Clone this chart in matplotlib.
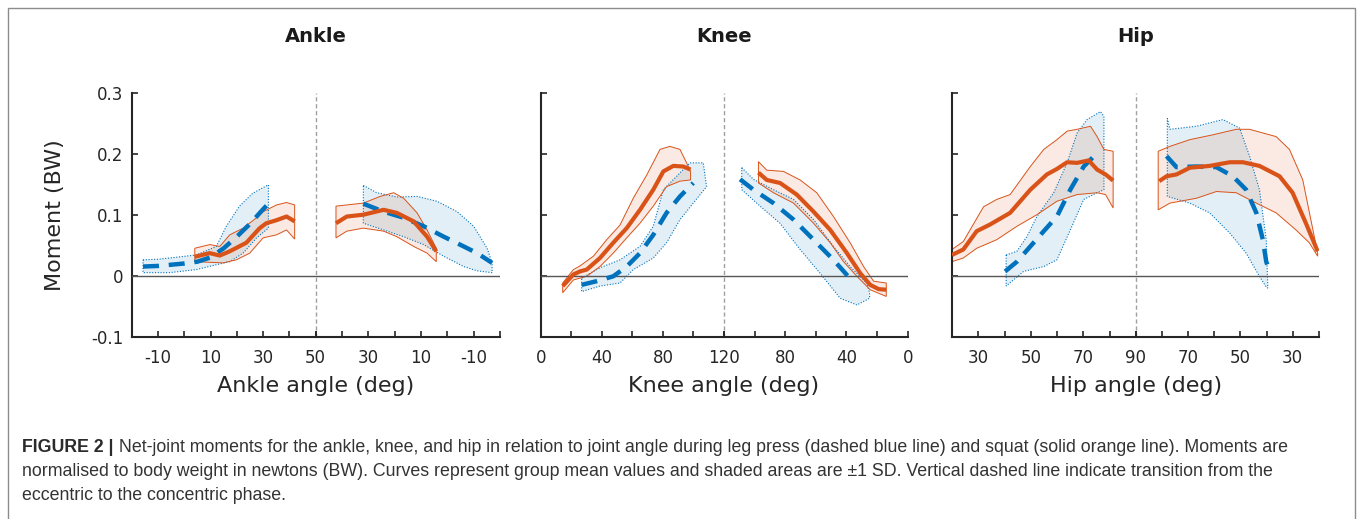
import matplotlib
matplotlib.use("Agg")
import matplotlib.pyplot as plt
from matplotlib.patches import Rectangle

plt.rcParams['font.family'] = ['DejaVu Sans']
plt.rcParams['axes.unicode_minus'] = False

# ---------------- data (angle in deg, moment in BW) ----------------
# Ankle, eccentric phase
ank_ecc_lp_x = [-15.7, -10, -5, 0, 5, 10, 15, 20, 25, 30, 32]
ank_ecc_lp_y = [0.015, 0.016, 0.018, 0.020, 0.023, 0.030, 0.045, 0.064, 0.085, 0.109, 0.118]
ank_ecc_lp_up_x = [-15.7, -10, -5.6, 4.6, 12.2, 16, 21, 26, 32]
ank_ecc_lp_up_y = [0.026, 0.027, 0.029, 0.034, 0.048, 0.081, 0.114, 0.135, 0.149]
ank_ecc_lp_lo_x = [-15.7, -5.6, 4.6, 12.2, 17.3, 22.4, 27.5, 32]
ank_ecc_lp_lo_y = [0.005, 0.005, 0.010, 0.018, 0.023, 0.037, 0.062, 0.078]
ank_ecc_sq_x = [4, 9.7, 13.5, 17.3, 23.6, 28.7, 31.2, 35.1, 38.9, 42]
ank_ecc_sq_y = [0.031, 0.037, 0.033, 0.040, 0.054, 0.078, 0.086, 0.091, 0.097, 0.089]
ank_ecc_sq_up_x = [4, 9.7, 13.5, 17.3, 22.4, 27.5, 30, 35.1, 38.9, 42]
ank_ecc_sq_up_y = [0.045, 0.051, 0.048, 0.067, 0.078, 0.095, 0.105, 0.116, 0.120, 0.116]
ank_ecc_sq_lo_x = [4, 9.7, 14.8, 19.8, 24.9, 30, 35.1, 38.9, 42]
ank_ecc_sq_lo_y = [0.023, 0.022, 0.021, 0.026, 0.037, 0.062, 0.067, 0.075, 0.060]
# Ankle, concentric phase
ank_con_sq_x = [42.3, 38.2, 31.9, 24.2, 19.2, 12.8, 7.7, 4.2]
ank_con_sq_y = [0.086, 0.097, 0.100, 0.108, 0.103, 0.089, 0.064, 0.040]
ank_con_sq_up_x = [42.3, 38.2, 31.9, 25.5, 20.4, 16.6, 11.5, 7.7, 4.2]
ank_con_sq_up_y = [0.114, 0.116, 0.119, 0.130, 0.136, 0.127, 0.103, 0.075, 0.045]
ank_con_sq_lo_x = [42.3, 38.2, 31.9, 24.2, 19.2, 12.8, 7.7, 4.2]
ank_con_sq_lo_y = [0.062, 0.073, 0.078, 0.073, 0.064, 0.048, 0.037, 0.023]
ank_con_lp_x = [31.9, 24.2, 16.6, 9.0, 1.4, -6.2, -11.3, -17.0]
ank_con_lp_y = [0.118, 0.105, 0.095, 0.081, 0.064, 0.048, 0.037, 0.021]
ank_con_lp_up_x = [31.9, 26.8, 19.2, 11.5, 3.9, -3.7, -10, -15.1, -17]
ank_con_lp_up_y = [0.148, 0.136, 0.129, 0.130, 0.122, 0.105, 0.081, 0.045, 0.021]
ank_con_lp_lo_x = [31.9, 24.2, 16.6, 9.0, 1.4, -6.2, -11.3, -17.0]
ank_con_lp_lo_y = [0.086, 0.075, 0.064, 0.051, 0.032, 0.015, 0.008, 0.005]

# Knee, eccentric phase
kne_ecc_sq_x = [14.4, 21.4, 25.7, 30.1, 38.8, 47.5, 56.3, 65.0, 73.7, 80.3, 86.8, 93.3, 98.1]
kne_ecc_sq_y = [-0.017, 0.002, 0.007, 0.010, 0.029, 0.054, 0.078, 0.108, 0.141, 0.171, 0.180, 0.179, 0.174]
kne_ecc_sq_up_x = [14.4, 21.4, 25.7, 34.5, 43.2, 51.9, 60.6, 69.4, 78.1, 84.6, 91.2, 95.5, 98.1]
kne_ecc_sq_up_y = [-0.012, 0.010, 0.016, 0.032, 0.059, 0.083, 0.127, 0.165, 0.207, 0.212, 0.207, 0.185, 0.171]
kne_ecc_sq_lo_x = [14.4, 21.4, 30.1, 38.8, 47.5, 56.3, 65.0, 73.7, 82.4, 91.2, 98.1]
kne_ecc_sq_lo_y = [-0.028, -0.007, -0.001, 0.015, 0.037, 0.062, 0.086, 0.114, 0.146, 0.155, 0.157]
kne_ecc_lp_x = [26.8, 36.6, 47.5, 56.3, 65.0, 73.7, 82.4, 91.2, 99.9]
kne_ecc_lp_y = [-0.015, -0.009, -0.001, 0.015, 0.037, 0.067, 0.103, 0.130, 0.152]
kne_ecc_lp_up_x = [26.8, 38.8, 51.9, 65.0, 73.7, 80.3, 89.0, 97.7, 106.4, 108.6]
kne_ecc_lp_up_y = [-0.004, 0.013, 0.026, 0.048, 0.081, 0.141, 0.163, 0.185, 0.185, 0.146]
kne_ecc_lp_lo_x = [26.8, 38.8, 51.9, 60.6, 73.7, 82.4, 91.2, 99.9, 108.6]
kne_ecc_lp_lo_y = [-0.026, -0.017, -0.012, 0.010, 0.029, 0.054, 0.092, 0.119, 0.146]
# Knee, concentric phase
kne_con_sq_x = [97.5, 92.1, 83.4, 72.5, 61.5, 50.6, 39.7, 31.0, 24.5, 19.0, 14.0]
kne_con_sq_y = [0.169, 0.157, 0.152, 0.133, 0.105, 0.075, 0.037, 0.004, -0.015, -0.022, -0.023]
kne_con_sq_up_x = [97.5, 92.1, 81.2, 70.3, 59.4, 48.5, 37.6, 28.8, 22.3, 14.0]
kne_con_sq_up_y = [0.187, 0.173, 0.171, 0.157, 0.136, 0.097, 0.054, 0.015, -0.009, -0.012]
kne_con_sq_lo_x = [97.5, 87.7, 74.6, 61.5, 50.6, 41.9, 33.2, 24.5, 14.0]
kne_con_sq_lo_y = [0.152, 0.136, 0.119, 0.086, 0.054, 0.023, -0.001, -0.023, -0.034]
kne_con_lp_x = [109.5, 100.8, 87.7, 74.6, 61.5, 48.5, 35.4]
kne_con_lp_y = [0.158, 0.141, 0.119, 0.092, 0.059, 0.026, -0.011]
kne_con_lp_up_x = [108.4, 100.8, 87.7, 74.6, 61.5, 48.5, 37.6, 26.7, 24.9]
kne_con_lp_up_y = [0.177, 0.158, 0.141, 0.125, 0.092, 0.048, 0.015, -0.012, -0.028]
kne_con_lp_lo_x = [108.4, 96.4, 83.4, 70.3, 57.2, 44.1, 33.2, 24.9]
kne_con_lp_lo_y = [0.141, 0.114, 0.086, 0.043, 0.004, -0.037, -0.048, -0.037]

# Hip, eccentric phase
hip_ecc_sq_x = [20, 24.3, 29.4, 34.5, 42.1, 49.8, 56.1, 59.9, 63.8, 67.6, 72.0, 75.2, 78.4, 81.3]
hip_ecc_sq_y = [0.034, 0.043, 0.073, 0.084, 0.103, 0.141, 0.166, 0.175, 0.186, 0.185, 0.189, 0.174, 0.166, 0.156]
hip_ecc_sq_up_x = [20, 24.3, 32.0, 37.0, 42.1, 49.8, 54.9, 59.9, 63.8, 67.6, 72.7, 75.2, 77.8, 81.3]
hip_ecc_sq_up_y = [0.043, 0.056, 0.113, 0.125, 0.133, 0.179, 0.207, 0.223, 0.237, 0.240, 0.245, 0.228, 0.207, 0.204]
hip_ecc_sq_lo_x = [20, 24.3, 29.4, 37.0, 44.7, 52.3, 59.9, 67.6, 75.2, 78.4, 81.3]
hip_ecc_sq_lo_y = [0.023, 0.029, 0.045, 0.059, 0.081, 0.100, 0.122, 0.133, 0.136, 0.133, 0.111]
hip_ecc_lp_x = [40.2, 44.7, 49.8, 54.9, 59.9, 65.0, 70.1, 75.2]
hip_ecc_lp_y = [0.007, 0.023, 0.048, 0.073, 0.097, 0.141, 0.179, 0.201]
hip_ecc_lp_up_x = [40.6, 44.7, 48.5, 52.3, 58.7, 63.8, 67.6, 71.4, 76.5, 77.8]
hip_ecc_lp_up_y = [0.034, 0.040, 0.064, 0.097, 0.136, 0.185, 0.234, 0.256, 0.269, 0.261]
hip_ecc_lp_lo_x = [40.6, 47.2, 54.9, 59.9, 65.0, 70.1, 75.2, 77.8]
hip_ecc_lp_lo_y = [-0.017, 0.007, 0.015, 0.026, 0.075, 0.125, 0.136, 0.141]
# Hip, concentric phase
hip_con_sq_x = [81.1, 78.3, 74.5, 69.4, 61.8, 54.1, 49.0, 42.7, 35.0, 30.0, 24.9, 20.4]
hip_con_sq_y = [0.155, 0.163, 0.166, 0.177, 0.180, 0.186, 0.186, 0.180, 0.163, 0.136, 0.086, 0.040]
hip_con_sq_up_x = [81.5, 77.0, 69.4, 60.5, 51.6, 46.5, 36.3, 31.2, 26.1, 20.4]
hip_con_sq_up_y = [0.204, 0.212, 0.223, 0.231, 0.240, 0.240, 0.228, 0.207, 0.157, 0.037]
hip_con_sq_lo_x = [81.5, 77.0, 66.8, 59.2, 51.6, 43.9, 36.3, 28.7, 23.6, 20.4]
hip_con_sq_lo_y = [0.108, 0.119, 0.127, 0.138, 0.136, 0.119, 0.103, 0.075, 0.054, 0.032]
hip_con_lp_x = [78.3, 74.5, 66.8, 59.2, 52.9, 47.8, 43.9, 41.4, 40.1, 39.1]
hip_con_lp_y = [0.196, 0.178, 0.179, 0.178, 0.163, 0.141, 0.103, 0.059, 0.023, 0.011]
hip_con_lp_up_x = [78.0, 77.0, 66.8, 56.7, 50.3, 46.5, 42.7, 40.1, 39.5]
hip_con_lp_up_y = [0.258, 0.240, 0.245, 0.256, 0.242, 0.196, 0.141, 0.059, -0.020]
hip_con_lp_lo_x = [78.0, 69.4, 61.8, 54.1, 47.8, 42.7, 39.9]
hip_con_lp_lo_y = [0.130, 0.119, 0.103, 0.070, 0.037, -0.001, -0.020]

titles = ["Ankle", "Knee", "Hip"]
xlabels = ["Ankle angle (deg)", "Knee angle (deg)", "Hip angle (deg)"]
ylabel = "Moment (BW)"
y_ticks = [-0.1, 0, 0.1, 0.2, 0.3]
y_ticklabels = ["-0.1", "0", "0.1", "0.2", "0.3"]
caption_bold = "FIGURE 2 |"
caption_lines = [
    " Net-joint moments for the ankle, knee, and hip in relation to joint angle during leg press (dashed blue line) and squat (solid orange line). Moments are",
    "normalised to body weight in newtons (BW). Curves represent group mean values and shaded areas are \u00b11 SD. Vertical dashed line indicate transition from the",
    "eccentric to the concentric phase.",
]

BLUE = "#0072BD"
ORANGE = "#D95319"

W, H = 1360, 519
fig = plt.figure(figsize=(W / 100, H / 100), dpi=100)
fig.patch.set_facecolor("white")

AX_TOP, AX_BOT = 92.7, 336.7

joints = [
    dict(px=(131.7, 315.7, 500.0), lo=-20, hi=50, step=10,
         labL=[-10, 10, 30, 50], labR=[30, 10, -10],
         ecc=[(ank_ecc_lp_x, ank_ecc_lp_y, ank_ecc_lp_up_x, ank_ecc_lp_up_y, ank_ecc_lp_lo_x, ank_ecc_lp_lo_y),
              (ank_ecc_sq_x, ank_ecc_sq_y, ank_ecc_sq_up_x, ank_ecc_sq_up_y, ank_ecc_sq_lo_x, ank_ecc_sq_lo_y)],
         con=[(ank_con_lp_x, ank_con_lp_y, ank_con_lp_up_x, ank_con_lp_up_y, ank_con_lp_lo_x, ank_con_lp_lo_y),
              (ank_con_sq_x, ank_con_sq_y, ank_con_sq_up_x, ank_con_sq_up_y, ank_con_sq_lo_x, ank_con_sq_lo_y)]),
    dict(px=(540.7, 724.0, 907.7), lo=0, hi=120, step=20,
         labL=[0, 40, 80, 120], labR=[80, 40, 0],
         ecc=[(kne_ecc_lp_x, kne_ecc_lp_y, kne_ecc_lp_up_x, kne_ecc_lp_up_y, kne_ecc_lp_lo_x, kne_ecc_lp_lo_y),
              (kne_ecc_sq_x, kne_ecc_sq_y, kne_ecc_sq_up_x, kne_ecc_sq_up_y, kne_ecc_sq_lo_x, kne_ecc_sq_lo_y)],
         con=[(kne_con_lp_x, kne_con_lp_y, kne_con_lp_up_x, kne_con_lp_up_y, kne_con_lp_lo_x, kne_con_lp_lo_y),
              (kne_con_sq_x, kne_con_sq_y, kne_con_sq_up_x, kne_con_sq_up_y, kne_con_sq_lo_x, kne_con_sq_lo_y)]),
    dict(px=(952.0, 1136.0, 1318.7), lo=20, hi=90, step=10,
         labL=[30, 50, 70, 90], labR=[70, 50, 30],
         ecc=[(hip_ecc_lp_x, hip_ecc_lp_y, hip_ecc_lp_up_x, hip_ecc_lp_up_y, hip_ecc_lp_lo_x, hip_ecc_lp_lo_y),
              (hip_ecc_sq_x, hip_ecc_sq_y, hip_ecc_sq_up_x, hip_ecc_sq_up_y, hip_ecc_sq_lo_x, hip_ecc_sq_lo_y)],
         con=[(hip_con_lp_x, hip_con_lp_y, hip_con_lp_up_x, hip_con_lp_up_y, hip_con_lp_lo_x, hip_con_lp_lo_y),
              (hip_con_sq_x, hip_con_sq_y, hip_con_sq_up_x, hip_con_sq_up_y, hip_con_sq_lo_x, hip_con_sq_lo_y)]),
]

SPINE = "#262626"


def draw_series(ax, series):
    (lx, ly, ux, uy, dx, dy), (sx, sy, sux, suy, sdx, sdy) = series
    # leg press band + squat band
    ax.fill(list(ux) + list(dx)[::-1], list(uy) + list(dy)[::-1],
            facecolor=BLUE, alpha=0.11, edgecolor="none", zorder=1)
    ax.fill(list(ux) + list(dx)[::-1], list(uy) + list(dy)[::-1],
            facecolor="none", edgecolor=BLUE, lw=0.8, ls=(0, (1, 1.5)), zorder=2)
    ax.fill(list(sux) + list(sdx)[::-1], list(suy) + list(sdy)[::-1],
            facecolor=ORANGE, alpha=0.12, edgecolor="none", zorder=1)
    ax.fill(list(sux) + list(sdx)[::-1], list(suy) + list(sdy)[::-1],
            facecolor="none", edgecolor=ORANGE, lw=0.7, zorder=2)
    ax.plot(lx, ly, color=BLUE, lw=3.2, ls=(0, (3.6, 2.2)), zorder=4)
    ax.plot(sx, sy, color=ORANGE, lw=3.0, solid_capstyle="butt", zorder=5)


for i, j in enumerate(joints):
    l, c, r = j["px"]
    bottom = (H - AX_BOT) / H
    height = (AX_BOT - AX_TOP) / H
    axL = fig.add_axes([l / W, bottom, (c - l) / W, height])
    axR = fig.add_axes([c / W, bottom, (r - c) / W, height])
    axL.set_xlim(j["lo"], j["hi"])
    axR.set_xlim(j["hi"], j["lo"])
    ticks = list(range(j["lo"], j["hi"] + 1, j["step"]))
    for ax, labs in ((axL, j["labL"]), (axR, j["labR"])):
        ax.set_ylim(-0.1, 0.3)
        ax.set_facecolor("none")
        ax.set_xticks(ticks)
        ax.set_xticklabels([str(t) if t in labs else "" for t in ticks])
        ax.spines["top"].set_visible(False)
        ax.spines["right"].set_visible(False)
        ax.spines["bottom"].set_color(SPINE)
        ax.spines["bottom"].set_linewidth(1.5)
        ax.tick_params(axis="x", direction="in", length=4, width=1.2, color=SPINE,
                       labelsize=12, pad=9, labelcolor="#262626")
        ax.axhline(0, color="#555555", lw=1.0, zorder=3)
    axR.spines["left"].set_visible(False)
    axR.set_yticks([])
    axL.spines["left"].set_color(SPINE)
    axL.spines["left"].set_linewidth(1.5)
    axL.set_yticks(y_ticks)
    if i == 0:
        axL.set_yticklabels(y_ticklabels)
    else:
        axL.set_yticklabels([""] * len(y_ticks))
    axL.tick_params(axis="y", direction="in", length=4, width=1.2, color=SPINE,
                    labelsize=12, pad=6, labelcolor="#262626")
    axL.axvline(j["hi"], color="#a0a0a0", lw=1.0, ls=(0, (3, 2)), clip_on=False, zorder=0)

    draw_series(axL, j["ecc"])
    draw_series(axR, j["con"])

    fig.text(c / W, 1 - 37 / H, titles[i], ha="center", va="center",
             fontsize=14, fontweight="bold", color="#1a1a1a")
    fig.text(c / W, 1 - 386 / H, xlabels[i], ha="center", va="center",
             fontsize=16, color="#262626")

fig.text(55 / W, 1 - 214.7 / H, ylabel, ha="center", va="center", rotation=90,
         fontsize=16, color="#262626")

# caption
cap_font = ["Liberation Sans", "DejaVu Sans"]
CAP_FS = 12.8
t = fig.text(22 / W, 1 - 447 / H, caption_bold, ha="left", va="center",
             fontsize=CAP_FS, fontweight="bold", family=cap_font, color="#2b2b2b")
fig.canvas.draw()
bb = t.get_window_extent()
fig.text(bb.x1 / W, 1 - 447 / H, caption_lines[0], ha="left", va="center",
         fontsize=CAP_FS, family=cap_font, color="#333333")
fig.text(22 / W, 1 - 471.5 / H, caption_lines[1], ha="left", va="center",
         fontsize=CAP_FS, family=cap_font, color="#333333")
fig.text(22 / W, 1 - 496 / H, caption_lines[2], ha="left", va="center",
         fontsize=CAP_FS, family=cap_font, color="#333333")

# outer frame
fig.patches.append(Rectangle((8 / W, -0.1), (1355 - 8) / W, 1.1 - 8 / H,
                             transform=fig.transFigure, fill=False,
                             edgecolor="#8c8c8c", lw=1.0))

fig.savefig("out.png", dpi=100)
